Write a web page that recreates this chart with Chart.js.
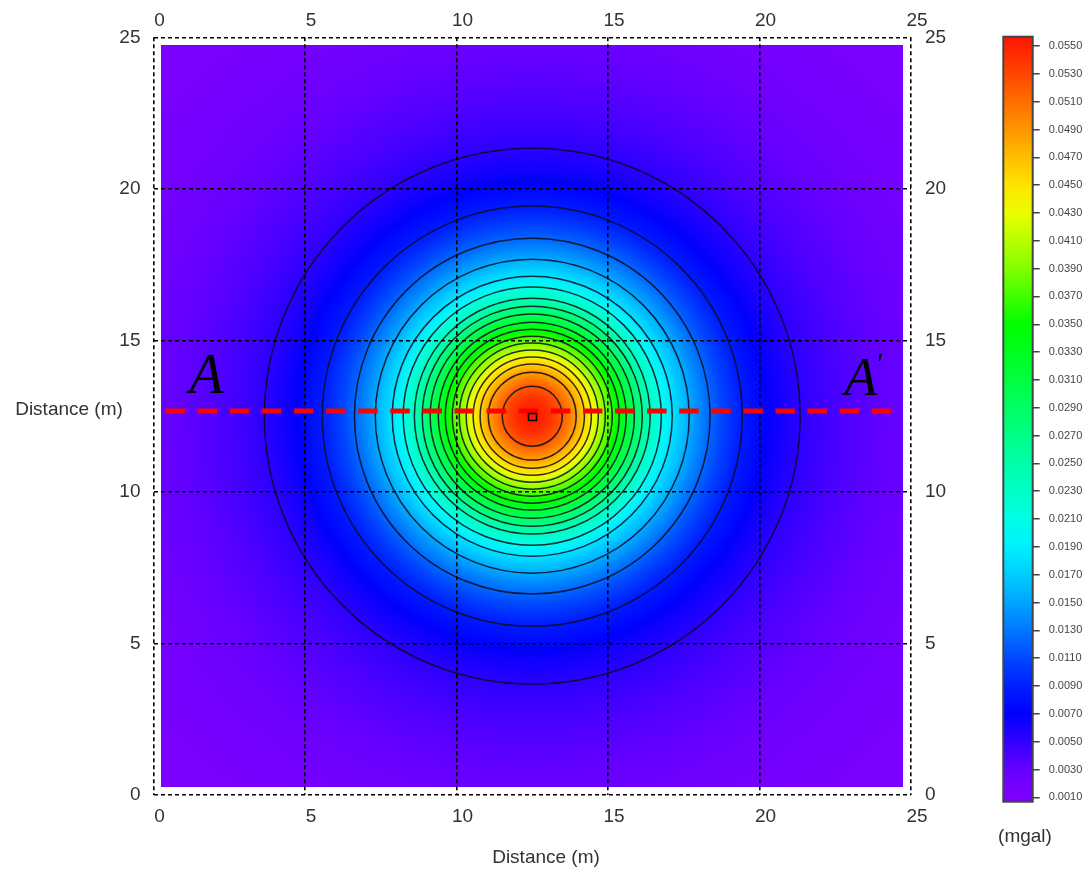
<!DOCTYPE html>
<html><head><meta charset="utf-8">
<script src="https://cdn.jsdelivr.net/npm/chart.js@4.4.1/dist/chart.umd.min.js"></script>
<style>
html,body{margin:0;padding:0;background:#fff;}
#wrap{position:relative;width:1089px;height:874px;overflow:hidden;}
#main{position:absolute;left:0;top:0;}
#cb{position:absolute;left:990px;top:0;}
</style></head><body>
<div id="wrap">
<canvas id="main" width="1000" height="874"></canvas>
<canvas id="cb" width="99" height="874"></canvas>
</div>
<script>
// ---------- data ----------
const axisTicks = [0, 5, 10, 15, 20, 25];                 // m, both axes
const gridExtent = [0.25, 24.75];                        // extent of computed grid (m)
const anomalyCentre = {x: 12.5, y: 12.5};                // m
// radial profile of the gravity anomaly (distance from centre, m -> mgal)
const profileRadius = [0, 0.5, 1, 1.5, 2, 2.5, 3, 3.5, 4, 4.5, 5, 5.5, 6, 7, 8, 9, 10, 11, 12, 14, 16, 18];
const profileValue  = [0.0556, 0.0545, 0.0520, 0.0482, 0.0435, 0.0380, 0.0330, 0.0280, 0.0228, 0.0190, 0.0162, 0.0138, 0.0118, 0.0086, 0.0065, 0.0051, 0.0042, 0.0035, 0.0029, 0.0020, 0.0014, 0.0010];
// radii of the drawn contour lines (m)
const contourRadius = [0.99, 1.45, 1.72, 1.95, 2.18, 2.41, 2.64, 2.87, 3.10, 3.37, 3.63, 3.89, 4.26, 4.62, 5.18, 5.87, 6.93, 8.84];
// section A–A'
const sectionX = [0.40, 24.34];
const sectionY = [12.67, 12.67];
// colour bar
const colorbarTicks = [0.0010, 0.0030, 0.0050, 0.0070, 0.0090, 0.0110, 0.0130, 0.0150, 0.0170, 0.0190,
  0.0210, 0.0230, 0.0250, 0.0270, 0.0290, 0.0310, 0.0330, 0.0350, 0.0370, 0.0390,
  0.0410, 0.0430, 0.0450, 0.0470, 0.0490, 0.0510, 0.0530, 0.0550];
const colorbarRange = [0.000684, 0.055668];

// ---------- styles ----------
const colorStops = [
  [0.0006, 128, 0, 255], [0.001, 126, 0, 255], [0.002, 116, 0, 255], [0.003, 100, 0, 255],
  [0.004, 76, 0, 255], [0.005, 50, 0, 255], [0.006, 24, 0, 255], [0.007, 0, 0, 255],
  [0.009, 0, 30, 255], [0.011, 0, 72, 255],
  [0.013, 0, 120, 255], [0.015, 0, 165, 255], [0.017, 0, 205, 255], [0.019, 0, 240, 255],
  [0.021, 0, 255, 230], [0.025, 0, 255, 170], [0.029, 0, 255, 100], [0.033, 0, 255, 30],
  [0.035, 0, 255, 0], [0.039, 130, 255, 0], [0.043, 235, 255, 0], [0.045, 255, 228, 0],
  [0.047, 255, 190, 0], [0.049, 255, 150, 0], [0.051, 255, 110, 0], [0.053, 255, 70, 0],
  [0.0557, 255, 20, 0]
];
const FONT = '"Liberation Sans", Arial, sans-serif';
const TEXT = '#333';

function colorAt(v) {
  if (v <= colorStops[0][0]) return colorStops[0].slice(1);
  for (let i = 1; i < colorStops.length; i++) {
    const a = colorStops[i - 1], b = colorStops[i];
    if (v <= b[0]) {
      const t = (v - a[0]) / (b[0] - a[0]);
      return [a[1] + (b[1] - a[1]) * t, a[2] + (b[2] - a[2]) * t, a[3] + (b[3] - a[3]) * t];
    }
  }
  return colorStops[colorStops.length - 1].slice(1);
}
function profileAt(r) {
  const n = profileRadius.length;
  if (r >= profileRadius[n - 1]) return profileValue[n - 1];
  for (let i = 1; i < n; i++) {
    if (r <= profileRadius[i]) {
      const t = (r - profileRadius[i - 1]) / (profileRadius[i] - profileRadius[i - 1]);
      const la = Math.log(profileValue[i - 1]), lb = Math.log(profileValue[i]);
      return Math.exp(la + (lb - la) * t);
    }
  }
  return profileValue[0];
}

const fieldPlugin = {
  id: 'field',
  beforeDraw(chart) {
    const {ctx, scales: {x, y}} = chart;
    const px0 = Math.round(x.getPixelForValue(gridExtent[0])), px1 = Math.round(x.getPixelForValue(gridExtent[1]));
    const py0 = Math.round(y.getPixelForValue(gridExtent[1])), py1 = Math.round(y.getPixelForValue(gridExtent[0]));
    const w = px1 - px0, h = py1 - py0;
    const img = ctx.createImageData(w, h);
    for (let j = 0; j < h; j++) {
      const dy = y.getValueForPixel(py0 + j + 0.5) - anomalyCentre.y;
      for (let i = 0; i < w; i++) {
        const dx = x.getValueForPixel(px0 + i + 0.5) - anomalyCentre.x;
        const c = colorAt(profileAt(Math.hypot(dx, dy)));
        const k = (j * w + i) * 4;
        img.data[k] = c[0]; img.data[k + 1] = c[1]; img.data[k + 2] = c[2]; img.data[k + 3] = 255;
      }
    }
    ctx.putImageData(img, px0, py0);
    // contours
    const cx = x.getPixelForValue(anomalyCentre.x), cy = y.getPixelForValue(anomalyCentre.y);
    const sx = x.getPixelForValue(1) - x.getPixelForValue(0);
    const sy = y.getPixelForValue(0) - y.getPixelForValue(1);
    ctx.save();
    ctx.strokeStyle = 'rgba(10,10,30,0.85)';
    ctx.lineWidth = 1.5;
    contourRadius.forEach(r => {
      ctx.beginPath();
      ctx.ellipse(cx, cy, r * sx, r * sy, 0, 0, Math.PI * 2);
      ctx.stroke();
    });
    ctx.restore();
  },
  afterDraw(chart) {
    const {ctx, scales: {x, y}} = chart;
    const cx = x.getPixelForValue(anomalyCentre.x), cy = y.getPixelForValue(anomalyCentre.y);
    const sx = x.getPixelForValue(1) - x.getPixelForValue(0);
    const sy = y.getPixelForValue(0) - y.getPixelForValue(1);
    ctx.save();
    // centre marker
    ctx.strokeStyle = '#000';
    ctx.lineWidth = 1.5;
    ctx.strokeRect(Math.round(cx - 0.14 * sx) + 0.5, Math.round(cy - 0.1 * sy) + 0.5, Math.round(0.28 * sx), Math.round(0.22 * sy));
    ctx.fillStyle = '#000';
    ctx.textAlign = 'left';
    ctx.textBaseline = 'alphabetic';
    ctx.font = 'italic 56px "Liberation Serif", "DejaVu Serif", serif';
    ctx.fillText('A', x.getPixelForValue(1.18), y.getPixelForValue(13.27));
    ctx.font = 'italic 54px "Liberation Serif", "DejaVu Serif", serif';
    const ax = x.getPixelForValue(22.8), ay = y.getPixelForValue(13.2);
    ctx.fillText('A', ax, ay);
    ctx.font = 'italic 30px "Liberation Serif", "DejaVu Serif", serif';
    ctx.fillText("'", ax + 31, ay - 22);
    // axis titles
    ctx.fillStyle = TEXT;
    ctx.font = '19px ' + FONT;
    ctx.textAlign = 'center';
    ctx.textBaseline = 'middle';
    ctx.fillText('Distance (m)', 69, 410);
    ctx.fillText('Distance (m)', 546, 858);
    ctx.restore();
  }
};

const setTicks = s => { s.ticks = axisTicks.map(v => ({value: v})); };
const tickFont = {family: FONT, size: 19};
const gridDash = [4, 3];

new Chart(document.getElementById('main'), {
  type: 'scatter',
  data: {
    datasets: [{
      data: sectionX.map((v, i) => ({x: v, y: sectionY[i]})),
      showLine: true,
      borderColor: '#ff0000',
      borderWidth: 5,
      borderDash: [19.5, 12.6],
      pointRadius: 0,
      fill: false
    }]
  },
  options: {
    responsive: false,
    animation: false,
    events: [],
    layout: {padding: 0},
    plugins: {legend: {display: false}, tooltip: {enabled: false}},
    scales: {
      x: {
        type: 'linear', position: 'bottom', min: 0, max: 25,
        afterBuildTicks: setTicks, afterFit: s => { s.height = 79; },
        grid: {color: '#000', lineWidth: 1.6, drawTicks: false},
        border: {display: false, dash: gridDash},
        ticks: {padding: 10, labelOffset: 6, font: tickFont, color: TEXT, maxRotation: 0, autoSkip: false}
      },
      x2: {
        type: 'linear', position: 'top', min: 0, max: 25,
        afterBuildTicks: setTicks, afterFit: s => { s.height = 37.3; },
        grid: {display: false, drawTicks: false}, border: {display: false},
        ticks: {padding: 5, labelOffset: 6, font: tickFont, color: TEXT, maxRotation: 0, autoSkip: false}
      },
      y: {
        type: 'linear', position: 'left', min: 0, max: 25,
        afterBuildTicks: setTicks, afterFit: s => { s.width = 153.5; },
        grid: {color: '#000', lineWidth: 1.6, drawTicks: false},
        border: {display: false, dash: gridDash},
        ticks: {padding: 13, font: tickFont, color: TEXT, autoSkip: false}
      },
      y2: {
        type: 'linear', position: 'right', min: 0, max: 25,
        afterBuildTicks: setTicks, afterFit: s => { s.width = 89; },
        grid: {display: false, drawTicks: false}, border: {display: false},
        ticks: {padding: 14, font: tickFont, color: TEXT, autoSkip: false}
      }
    }
  },
  plugins: [fieldPlugin]
});

const colorbarPlugin = {
  id: 'colorbar',
  beforeDraw(chart) {
    const {ctx, chartArea: a, scales: {y}} = chart;
    for (let py = Math.floor(a.top); py < Math.ceil(a.bottom); py++) {
      const c = colorAt(y.getValueForPixel(py + 0.5));
      ctx.fillStyle = `rgb(${c[0] | 0},${c[1] | 0},${c[2] | 0})`;
      ctx.fillRect(a.left, py, a.right - a.left, 1);
    }
  },
  afterDraw(chart) {
    const {ctx, chartArea: a} = chart;
    ctx.save();
    ctx.strokeStyle = '#444';
    ctx.lineWidth = 2;
    ctx.strokeRect(a.left, a.top, a.right - a.left, a.bottom - a.top);
    ctx.fillStyle = TEXT;
    ctx.font = '19px ' + FONT;
    ctx.textAlign = 'center';
    ctx.textBaseline = 'middle';
    ctx.fillText('(mgal)', 35, 837);
    ctx.restore();
  }
};

new Chart(document.getElementById('cb'), {
  type: 'scatter',
  data: {datasets: []},
  options: {
    responsive: false,
    animation: false,
    events: [],
    layout: {padding: {left: 13.3, top: 36.7, bottom: 72.3, right: 0}},
    plugins: {legend: {display: false}, tooltip: {enabled: false}},
    scales: {
      x: {display: false, min: 0, max: 1},
      y: {
        type: 'linear', position: 'right', min: colorbarRange[0], max: colorbarRange[1],
        afterBuildTicks: s => { s.ticks = colorbarTicks.map(v => ({value: v})); },
        afterFit: s => { s.width = 56.3; },
        grid: {drawOnChartArea: false, drawTicks: true, tickLength: 7, color: '#444', lineWidth: 1.5},
        border: {display: false},
        ticks: {padding: 9, font: {family: FONT, size: 11}, color: '#444', autoSkip: false,
                callback: v => Number(v).toFixed(4)}
      }
    }
  },
  plugins: [colorbarPlugin]
});
</script>
</body></html>
